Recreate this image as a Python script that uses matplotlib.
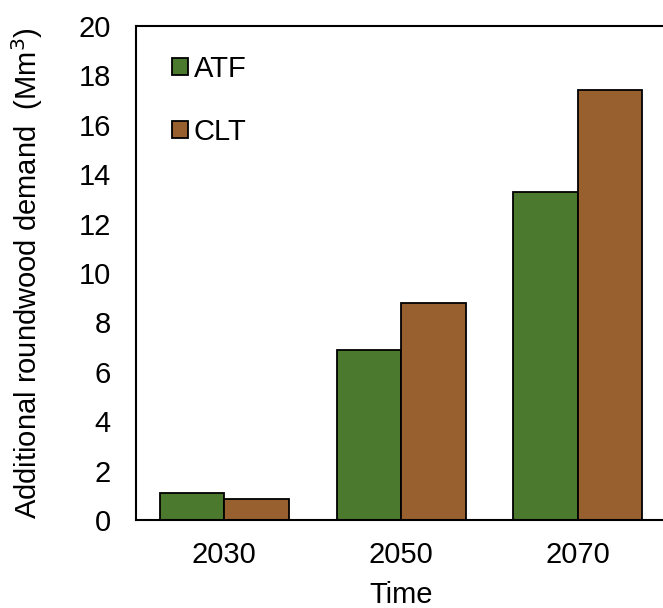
import matplotlib.pyplot as plt
import numpy as np

plt.rcParams["font.family"] = ["Liberation Sans", "DejaVu Sans"]

# Additional roundwood demand (Mm3) per scenario year
years = ["2030", "2050", "2070"]
atf = [1.1, 6.9, 13.3]
clt = [0.86, 8.8, 17.4]

ATF_COLOR = "#4b7a2f"
CLT_COLOR = "#98602f"
FS = 21

fig = plt.figure(figsize=(6.63, 6.08), dpi=100)
ax = fig.add_axes([0.205, 0.1447, 0.80, 0.8125])

x = np.arange(len(years))
w = 0.365
ax.bar(x - w / 2, atf, w, color=ATF_COLOR, edgecolor="black", linewidth=1.3, label="ATF")
ax.bar(x + w / 2, clt, w, color=CLT_COLOR, edgecolor="black", linewidth=1.3, label="CLT")

ax.set_xlim(-0.5, 2.5)
ax.set_ylim(0, 20)
ax.set_yticks(np.arange(0, 21, 2))
ax.set_xticks(x)
ax.set_xticklabels(years)
ax.tick_params(axis="both", length=0, labelsize=FS)
ax.tick_params(axis="y", pad=18)
ax.tick_params(axis="x", pad=15)

for side in ["left", "bottom", "top", "right"]:
    ax.spines[side].set_linewidth(1.5)

ax.set_xlabel("Time", fontsize=FS, labelpad=9)
ax.set_ylabel("Additional roundwood demand  (Mm$^3$)", fontsize=FS, labelpad=24)

ax.legend(
    loc="upper left", bbox_to_anchor=(0.068, 0.942), frameon=False,
    fontsize=FS, handlelength=0.55, handleheight=0.5, handletextpad=0.2,
    labelspacing=1.2, borderpad=0, borderaxespad=0,
)

fig.savefig("out.png", dpi=100)
